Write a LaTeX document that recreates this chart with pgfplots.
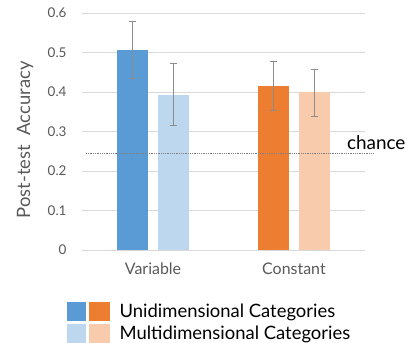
\documentclass[border=0pt]{standalone}
\usepackage{pgfplots}
\pgfplotsset{compat=1.18}
\usepackage{fontspec}
\setmainfont{Lato}
\definecolor{uniB}{HTML}{5B9BD5}
\definecolor{multiB}{HTML}{BDD7EE}
\definecolor{uniO}{HTML}{ED7D31}
\definecolor{multiO}{HTML}{F8CBAD}
\definecolor{gridc}{HTML}{D9D9D9}
\definecolor{txt}{HTML}{595959}
\definecolor{errc}{HTML}{8C8C8C}
\begin{document}
\begin{tikzpicture}
\path[use as bounding box] (0,0) rectangle (407bp,343bp);
\begin{axis}[
  at={(82bp,93bp)}, anchor=south west,
  scale only axis, width=283bp, height=237bp,
  xmin=-0.504, xmax=1.504, ymin=0, ymax=0.6,
  axis line style={draw=none}, clip=false,
  ytick={0,0.1,...,0.6},
  ymajorgrids, grid style={gridc, line width=0.8pt},
  major tick length=0pt,
  xtick={0,1}, xticklabels={Variable,Constant},
  every tick label/.append style={text=txt},
  /pgf/number format/assume math mode=true,
  /pgf/number format/fixed, /pgf/number format/precision=1,
  yticklabel style={xshift=-12bp, font=\fontsize{13.5}{15}\selectfont},
  xticklabel style={yshift=-9bp, font=\fontsize{16}{18}\selectfont},
  ylabel={Post-test\ \ Accuracy},
  ylabel style={at={(axis description cs:-0.2014,0.465)}, anchor=center, font=\fontsize{18.5}{20}\selectfont, text=txt},
  bar width=31bp, bar shift=0pt,
  error bars/y dir=both, error bars/y explicit,
  error bars/error bar style={errc, line width=1pt},
  error bars/error mark options={rotate=90, mark size=3.5bp, errc, line width=1pt},
  legend style={draw=none, fill=none, at={(axis description cs:-0.053,-0.218)}, anchor=north west,
    font=\fontsize{18.5}{20}\selectfont, row sep=3bp, inner sep=0pt, cells={anchor=west},
    /tikz/every odd column/.append style={column sep=8bp}},
  legend cell align=left,
]
\addplot[ybar, fill=uniB, draw=none, forget plot] coordinates {(-0.145,0.506) +=(0,0.073) -=(0,0.071)};
\addplot[ybar, fill=multiB, draw=none, forget plot] coordinates {(0.145,0.392) +=(0,0.080) -=(0,0.078)};
\addplot[ybar, fill=uniO, draw=none, forget plot] coordinates {(0.858,0.416) +=(0,0.060) -=(0,0.062)};
\addplot[ybar, fill=multiO, draw=none, forget plot] coordinates {(1.145,0.399) +=(0,0.059) -=(0,0.060)};
\addplot[gray, densely dotted, line width=0.8pt, forget plot, error bars/y dir=none] coordinates {(-0.476,0.244) (1.56,0.244)};
\node[anchor=base west, font=\fontsize{19}{21}\selectfont, inner sep=0pt] at (axis cs:1.375,0.244) [yshift=3.7bp] {chance};
\addlegendimage{legend image code/.code={\fill[uniB] (0bp,-9bp) rectangle (18bp,9bp); \fill[uniO] (22bp,-9bp) rectangle (42bp,9bp);}}
\addlegendentry{Unidimensional Categories}
\addlegendimage{legend image code/.code={\fill[multiB] (0bp,-9bp) rectangle (18bp,9bp); \fill[multiO] (22bp,-9bp) rectangle (42bp,9bp);}}
\addlegendentry{Multidimensional Categories}
\end{axis}
\end{tikzpicture}
\end{document}
